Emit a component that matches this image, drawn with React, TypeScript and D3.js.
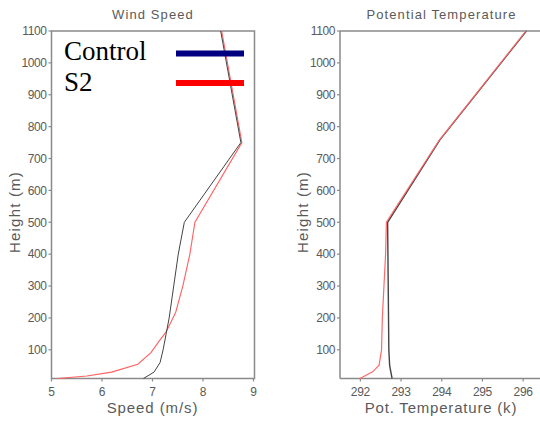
import React from "react";
import * as d3 from "d3";

const heightTicks = [100, 200, 300, 400, 500, 600, 700, 800, 900, 1000, 1100];
const speedTicks = [5, 6, 7, 8, 9];
const tempTicks = [292, 293, 294, 295, 296];

const speedControlH = [10, 30, 60, 100, 150, 200, 300, 400, 500, 750, 1100];
const speedControlV = [6.82, 7.03, 7.15, 7.21, 7.27, 7.33, 7.42, 7.51, 7.63, 8.75, 8.35];
const speedS2H = [10, 18, 30, 55, 91, 125, 156, 218, 300, 400, 500, 750, 1100];
const speedS2V = [5.12, 5.7, 6.19, 6.71, 6.97, 7.12, 7.27, 7.46, 7.6, 7.74, 7.84, 8.77, 8.37];

const tempControlH = [10, 50, 100, 500, 758, 1100];
const tempControlV = [292.78, 292.72, 292.7, 292.67, 293.95, 296.08];
const tempS2H = [10, 31, 52, 99, 200, 300, 400, 500, 758, 1100];
const tempS2V = [291.99, 292.3, 292.46, 292.52, 292.54, 292.58, 292.62, 292.64, 293.94, 296.07];

const legendNames = ["Control", "S2"];
const legendColors = ["#000080", "#ff0000"];

const FRAME = "#8a8a8a";
const TXT = "#5a5a5a";

type Pt = [number, number];

function zipPts(v: number[], h: number[]): Pt[] {
  return h.map((hh, i) => [v[i], hh]);
}

export default function App() {
  const top = 31;
  const bottom = 378.5;
  const y = d3.scaleLinear().domain([10, 1100]).range([bottom, top]);
  const xs = d3.scaleLinear().domain([5, 9]).range([51.5, 253.5]);
  const xt = d3.scaleLinear().domain([291.5, 296.5]).range([340, 543.5]);

  const lineS = d3.line<Pt>().x((d) => xs(d[0])).y((d) => y(d[1]));
  const lineT = d3.line<Pt>().x((d) => xt(d[0])).y((d) => y(d[1]));

  const font = "'Liberation Sans', Arial, sans-serif";

  const yAxis = (x0: number, key: string) => (
    <g key={key}>
      {heightTicks.map((t) => (
        <g key={t}>
          <line x1={x0 - 3} x2={x0} y1={y(t)} y2={y(t)} stroke={FRAME} strokeWidth={1.2} />
          <text x={x0 - 5} y={y(t)} dy="0.36em" textAnchor="end" fontSize={12} letterSpacing={-0.4} fill={TXT} fontFamily={font}>
            {t}
          </text>
        </g>
      ))}
    </g>
  );

  return (
    <svg width={540} height={424} style={{ position: "absolute", left: 0, top: 0, background: "#fff" }}>
      <rect x={0} y={0} width={540} height={424} fill="#fff" />
      {/* Left panel */}
      <text x={153} y={19} textAnchor="middle" fontSize={13} letterSpacing={1.1} fill={TXT} fontFamily={font}>Wind Speed</text>
      <rect x={xs(5)} y={top} width={xs(9) - xs(5) + 1} height={bottom - top} fill="none" stroke={FRAME} strokeWidth={1.5} />
      {yAxis(xs(5), "ly")}
      {speedTicks.map((t) => (
        <g key={t}>
          <line x1={xs(t)} x2={xs(t)} y1={bottom} y2={bottom + 3} stroke={FRAME} strokeWidth={1.2} />
          <text x={xs(t)} y={396} textAnchor="middle" fontSize={12} fill={TXT} fontFamily={font}>{t}</text>
        </g>
      ))}
      <text x={152.5} y={413} textAnchor="middle" fontSize={15} letterSpacing={0.9} fill={TXT} fontFamily={font}>Speed (m/s)</text>
      <text transform={`translate(20,212) rotate(-90)`} textAnchor="middle" fontSize={15} letterSpacing={1.2} fill={TXT} fontFamily={font}>Height (m)</text>
      <path d={lineS(zipPts(speedS2V, speedS2H)) || ""} fill="none" stroke="#ff6060" strokeWidth={1.1} />
      <path d={lineS(zipPts(speedControlV, speedControlH)) || ""} fill="none" stroke="#444" strokeWidth={1} />

      {/* Right panel */}
      <text x={441.5} y={19} textAnchor="middle" fontSize={13} letterSpacing={1.1} fill={TXT} fontFamily={font}>Potential Temperature</text>
      <line x1={340} x2={540} y1={top} y2={top} stroke={FRAME} strokeWidth={1.5} />
      <line x1={340} x2={540} y1={bottom} y2={bottom} stroke={FRAME} strokeWidth={1.5} />
      <line x1={340} x2={340} y1={top} y2={bottom} stroke={FRAME} strokeWidth={1.5} />
      {yAxis(340, "ry")}
      {tempTicks.map((t) => (
        <g key={t}>
          <line x1={xt(t)} x2={xt(t)} y1={bottom} y2={bottom + 3} stroke={FRAME} strokeWidth={1.2} />
          <text x={xt(t)} y={396} textAnchor="middle" fontSize={12} letterSpacing={-0.3} fill={TXT} fontFamily={font}>{t}</text>
        </g>
      ))}
      <text x={441} y={413} textAnchor="middle" fontSize={15} letterSpacing={0.8} fill={TXT} fontFamily={font}>Pot. Temperature (k)</text>
      <text transform={`translate(308,212) rotate(-90)`} textAnchor="middle" fontSize={15} letterSpacing={1.2} fill={TXT} fontFamily={font}>Height (m)</text>
      <path d={lineT(zipPts(tempControlV, tempControlH)) || ""} fill="none" stroke="#444" strokeWidth={1.4} />
      <path d={lineT(zipPts(tempS2V, tempS2H)) || ""} fill="none" stroke="#ff6a6a" strokeWidth={1.2} />

      {/* Legend */}
      {legendNames.map((n, i) => (
        <g key={n}>
          <text x={64} y={60 + i * 31} fontSize={27} fill="#000" fontFamily="'Liberation Serif', 'Times New Roman', serif">{n}</text>
          <line x1={176} x2={244} y1={53.5 + i * 29.5} y2={53.5 + i * 29.5} stroke={legendColors[i]} strokeWidth={6} />
        </g>
      ))}
    </svg>
  );
}
